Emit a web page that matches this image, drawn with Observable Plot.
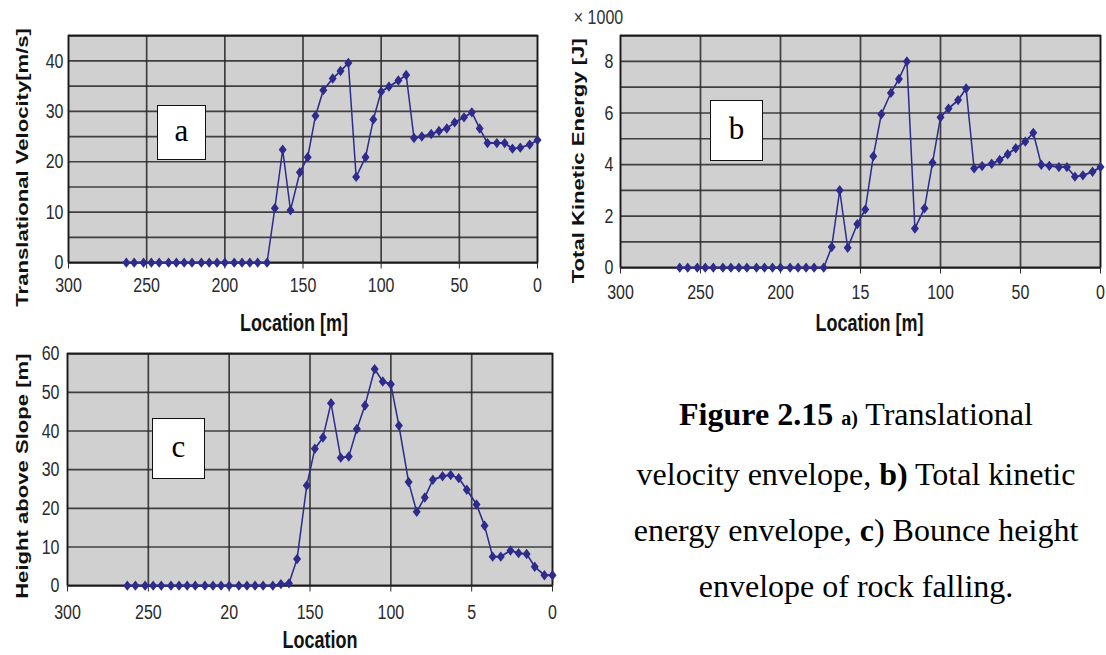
<!DOCTYPE html>
<html>
<head>
<meta charset="utf-8">
<script src="https://cdn.jsdelivr.net/npm/d3@7"></script>
<script src="https://cdn.jsdelivr.net/npm/@observablehq/plot@0.6"></script>
<style>
  body { margin: 0; background: #fff; }
  #fig { position: relative; width: 1106px; height: 655px; overflow: hidden; background: #fff; }
  .tag { position: absolute; background: #fff; border: 1.5px solid #111; box-sizing: border-box;
         font-family: "Liberation Serif", "Times New Roman", serif; font-size: 31px; color: #000;
         display: flex; align-items: center; justify-content: center; padding-bottom: 4px; }
  #caption { position: absolute; left: 606px; width: 500px; top: 386px; text-align: center;
             font-family: "Liberation Serif", "Times New Roman", serif; font-size: 32px;
             line-height: 56px; color: #000; white-space: nowrap; }
</style>
</head>
<body>
<div id="fig"></div>
<script>
// ---- data ----
const locationM = [263, 258, 252, 247, 242, 236, 231, 226, 221, 215, 210, 205, 200, 194, 189, 184, 179, 173,
  168, 163, 158, 152, 147, 142, 137, 131, 126, 121, 116, 110, 105, 100, 95, 89, 84, 79, 74, 68,
  63, 58, 53, 47, 42, 37, 32, 26, 21, 16, 11, 5, 0];
const velocity = [0, 0, 0, 0, 0, 0, 0, 0, 0, 0, 0, 0, 0, 0, 0, 0, 0, 0,
  10.8, 22.4, 10.4, 17.9, 20.9, 29.1, 34.2, 36.5, 38.0, 39.6,
  17.0, 20.9, 28.4, 33.9, 34.9, 36.1, 37.2, 24.7, 25.0, 25.5,
  26.1, 26.6, 27.8, 28.8, 29.8, 26.6, 23.7, 23.7, 23.7, 22.6,
  22.8, 23.4, 24.3];
const energyK = [0, 0, 0, 0, 0, 0, 0, 0, 0, 0, 0, 0, 0, 0, 0, 0, 0, 0,
  0.8, 3.0, 0.77, 1.69, 2.26, 4.32, 5.95, 6.78, 7.32, 8.0,
  1.52, 2.3, 4.07, 5.83, 6.17, 6.5, 6.95, 3.85, 3.94, 4.03,
  4.18, 4.4, 4.63, 4.89, 5.23, 3.99, 3.95, 3.9, 3.9, 3.53,
  3.58, 3.72, 3.9];
const bounce = [0, 0, 0, 0, 0, 0, 0, 0, 0, 0, 0, 0, 0, 0, 0, 0, 0, 0,
  0.4, 0.6, 6.9, 25.9, 35.4, 38.3, 47.2, 33.1, 33.4, 40.5,
  46.6, 56.0, 52.8, 52.1, 41.4, 26.8, 19.1, 22.8, 27.4, 28.3,
  28.6, 27.8, 24.8, 21.0, 15.5, 7.5, 7.5, 9.1, 8.4, 8.2,
  4.9, 2.7, 2.7];

const xTicks = [300, 250, 200, 150, 100, 50, 0];
const xLabelsA = ["300", "250", "200", "150", "100", "50", "0"];
const xLabelsB = ["300", "250", "200", "15", "100", "50", "0"];
const xLabelsC = ["300", "250", "20", "150", "100", "5", "0"];
const yTicksA = [0, 10, 20, 30, 40];
const yGridA = [0, 5, 10, 15, 20, 25, 30, 35, 40, 45];
const yTicksB = [0, 2, 4, 6, 8];
const yGridB = [0, 1, 2, 3, 4, 5, 6, 7, 8, 9];
const yTicksC = [0, 10, 20, 30, 40, 50, 60];

const rows = locationM.map((loc, i) => ({loc, v: velocity[i], e: energyK[i], h: bounce[i]}));

const FONT = '"Liberation Sans", Arial, Helvetica, sans-serif';
const LINE = "#2f2b8c";
const S = 1.3; // vertical stretch of the original figure

const fig = document.getElementById("fig");

function panel(o) {
  const h = o.H / S;
  const fmt = new Map(xTicks.map((t, i) => [t, o.xLabels[i]]));
  const svg = Plot.plot({
    width: o.width, height: h,
    marginTop: o.mt, marginBottom: h - o.fb, marginLeft: o.ml, marginRight: o.mr,
    style: {fontFamily: FONT, fontSize: "16px", color: "#2a2a2a", background: "#fff"},
    x: {domain: [300, 0]},
    y: {domain: o.yDomain},
    marks: [
      Plot.frame({fill: "#d0d0d0", stroke: null}),
      Plot.gridY(o.yGrid, {stroke: "#262626", strokeOpacity: 0.85, strokeWidth: 1.3}),
      Plot.gridX(xTicks, {stroke: "#262626", strokeOpacity: 0.85, strokeWidth: 1.7}),
      Plot.frame({stroke: "#1a1a1a", strokeWidth: 1.5}),
      Plot.axisX(xTicks, {tickSize: 5, tickPadding: o.xPad, tickFormat: d => fmt.get(d), label: null}),
      Plot.axisY(o.yTicks, {tickSize: 0, tickPadding: o.yPad, label: null}),
      Plot.line(rows, {x: "loc", y: o.key, stroke: LINE, strokeWidth: 1.5}),
      Plot.dot(rows, {x: "loc", y: o.key, symbol: "diamond2", r: 3.6, fill: LINE, stroke: null}),
      Plot.text([o.ylabel], {text: d => d, frameAnchor: "left", rotate: -90, textAnchor: "middle", lineAnchor: "middle",
        dx: o.yDx, dy: o.yDy, fontSize: 17, fontWeight: "bold", fill: "#111"}),
      Plot.text([o.xlabel], {text: d => d, frameAnchor: "bottom", textAnchor: "middle", lineAnchor: "middle",
        dx: o.xDx, dy: o.xDy, fontSize: 18, fontWeight: "bold", fill: "#111"}),
      ...(o.extra || [])
    ]
  });
  svg.setAttribute("preserveAspectRatio", "none");
  svg.style.position = "absolute";
  svg.style.left = o.left + "px";
  svg.style.top = o.top + "px";
  svg.style.width = o.width + "px";
  svg.style.height = o.H + "px";
  svg.style.maxWidth = "none";
  fig.appendChild(svg);
}

// a) Translational velocity
panel({left: 0, top: 0, width: 560, H: 340, mt: 35 / S, fb: 262 / S, ml: 68, mr: 23,
  key: "v", yDomain: [0, 45], yTicks: yTicksA, yGrid: yGridA, xLabels: xLabelsA, xPad: 6, yPad: 5,
  ylabel: "Translational Velocity[m/s]", yDx: -46, yDy: 14,
  xlabel: "Location [m]", xDx: -9, xDy: 47});

// b) Total kinetic energy
panel({left: 560, top: 0, width: 546, H: 340, mt: 35 / S, fb: 267 / S, ml: 60, mr: 6,
  key: "e", yDomain: [0, 9], yTicks: yTicksB, yGrid: yGridB, xLabels: xLabelsB, xPad: 8, yPad: 7,
  ylabel: "Total Kinetic Energy [J]", yDx: -42, yDy: 7,
  xlabel: "Location [m]", xDx: 9, xDy: 43,
  extra: [Plot.text(["× 1000"], {text: d => d, frameAnchor: "top-left", textAnchor: "middle", lineAnchor: "middle",
    dx: -22, dy: -14, fontSize: 16, fill: "#333"})]});

// c) Bounce height
panel({left: 0, top: 340, width: 570, H: 315, mt: 13 / S, fb: 245 / S, ml: 67, mr: 18,
  key: "h", yDomain: [0, 60], yTicks: yTicksC, yGrid: yTicksC, xLabels: xLabelsC, xPad: 9, yPad: 8,
  ylabel: "Height above Slope [m]", yDx: -45, yDy: 5,
  xlabel: "Location", xDx: 10, xDy: 42});

// panel tags
[["a", 157, 105, 49, 55], ["b", 710, 100, 53, 61], ["c", 152, 418, 53, 61]].forEach(([t, l, tp, w, hh]) => {
  const d = document.createElement("div");
  d.className = "tag";
  d.textContent = t;
  Object.assign(d.style, {left: l + "px", top: tp + "px", width: w + "px", height: hh + "px"});
  fig.appendChild(d);
});

// caption
const cap = document.createElement("div");
cap.id = "caption";
cap.innerHTML = '<b>Figure 2.15</b> <b style="font-size:20px">a)</b> Translational<br>' +
  'velocity envelope, <b>b)</b> Total kinetic<br>' +
  'energy envelope, <b>c</b>) Bounce height<br>' +
  'envelope of rock falling.';
fig.appendChild(cap);
</script>
</body>
</html>
